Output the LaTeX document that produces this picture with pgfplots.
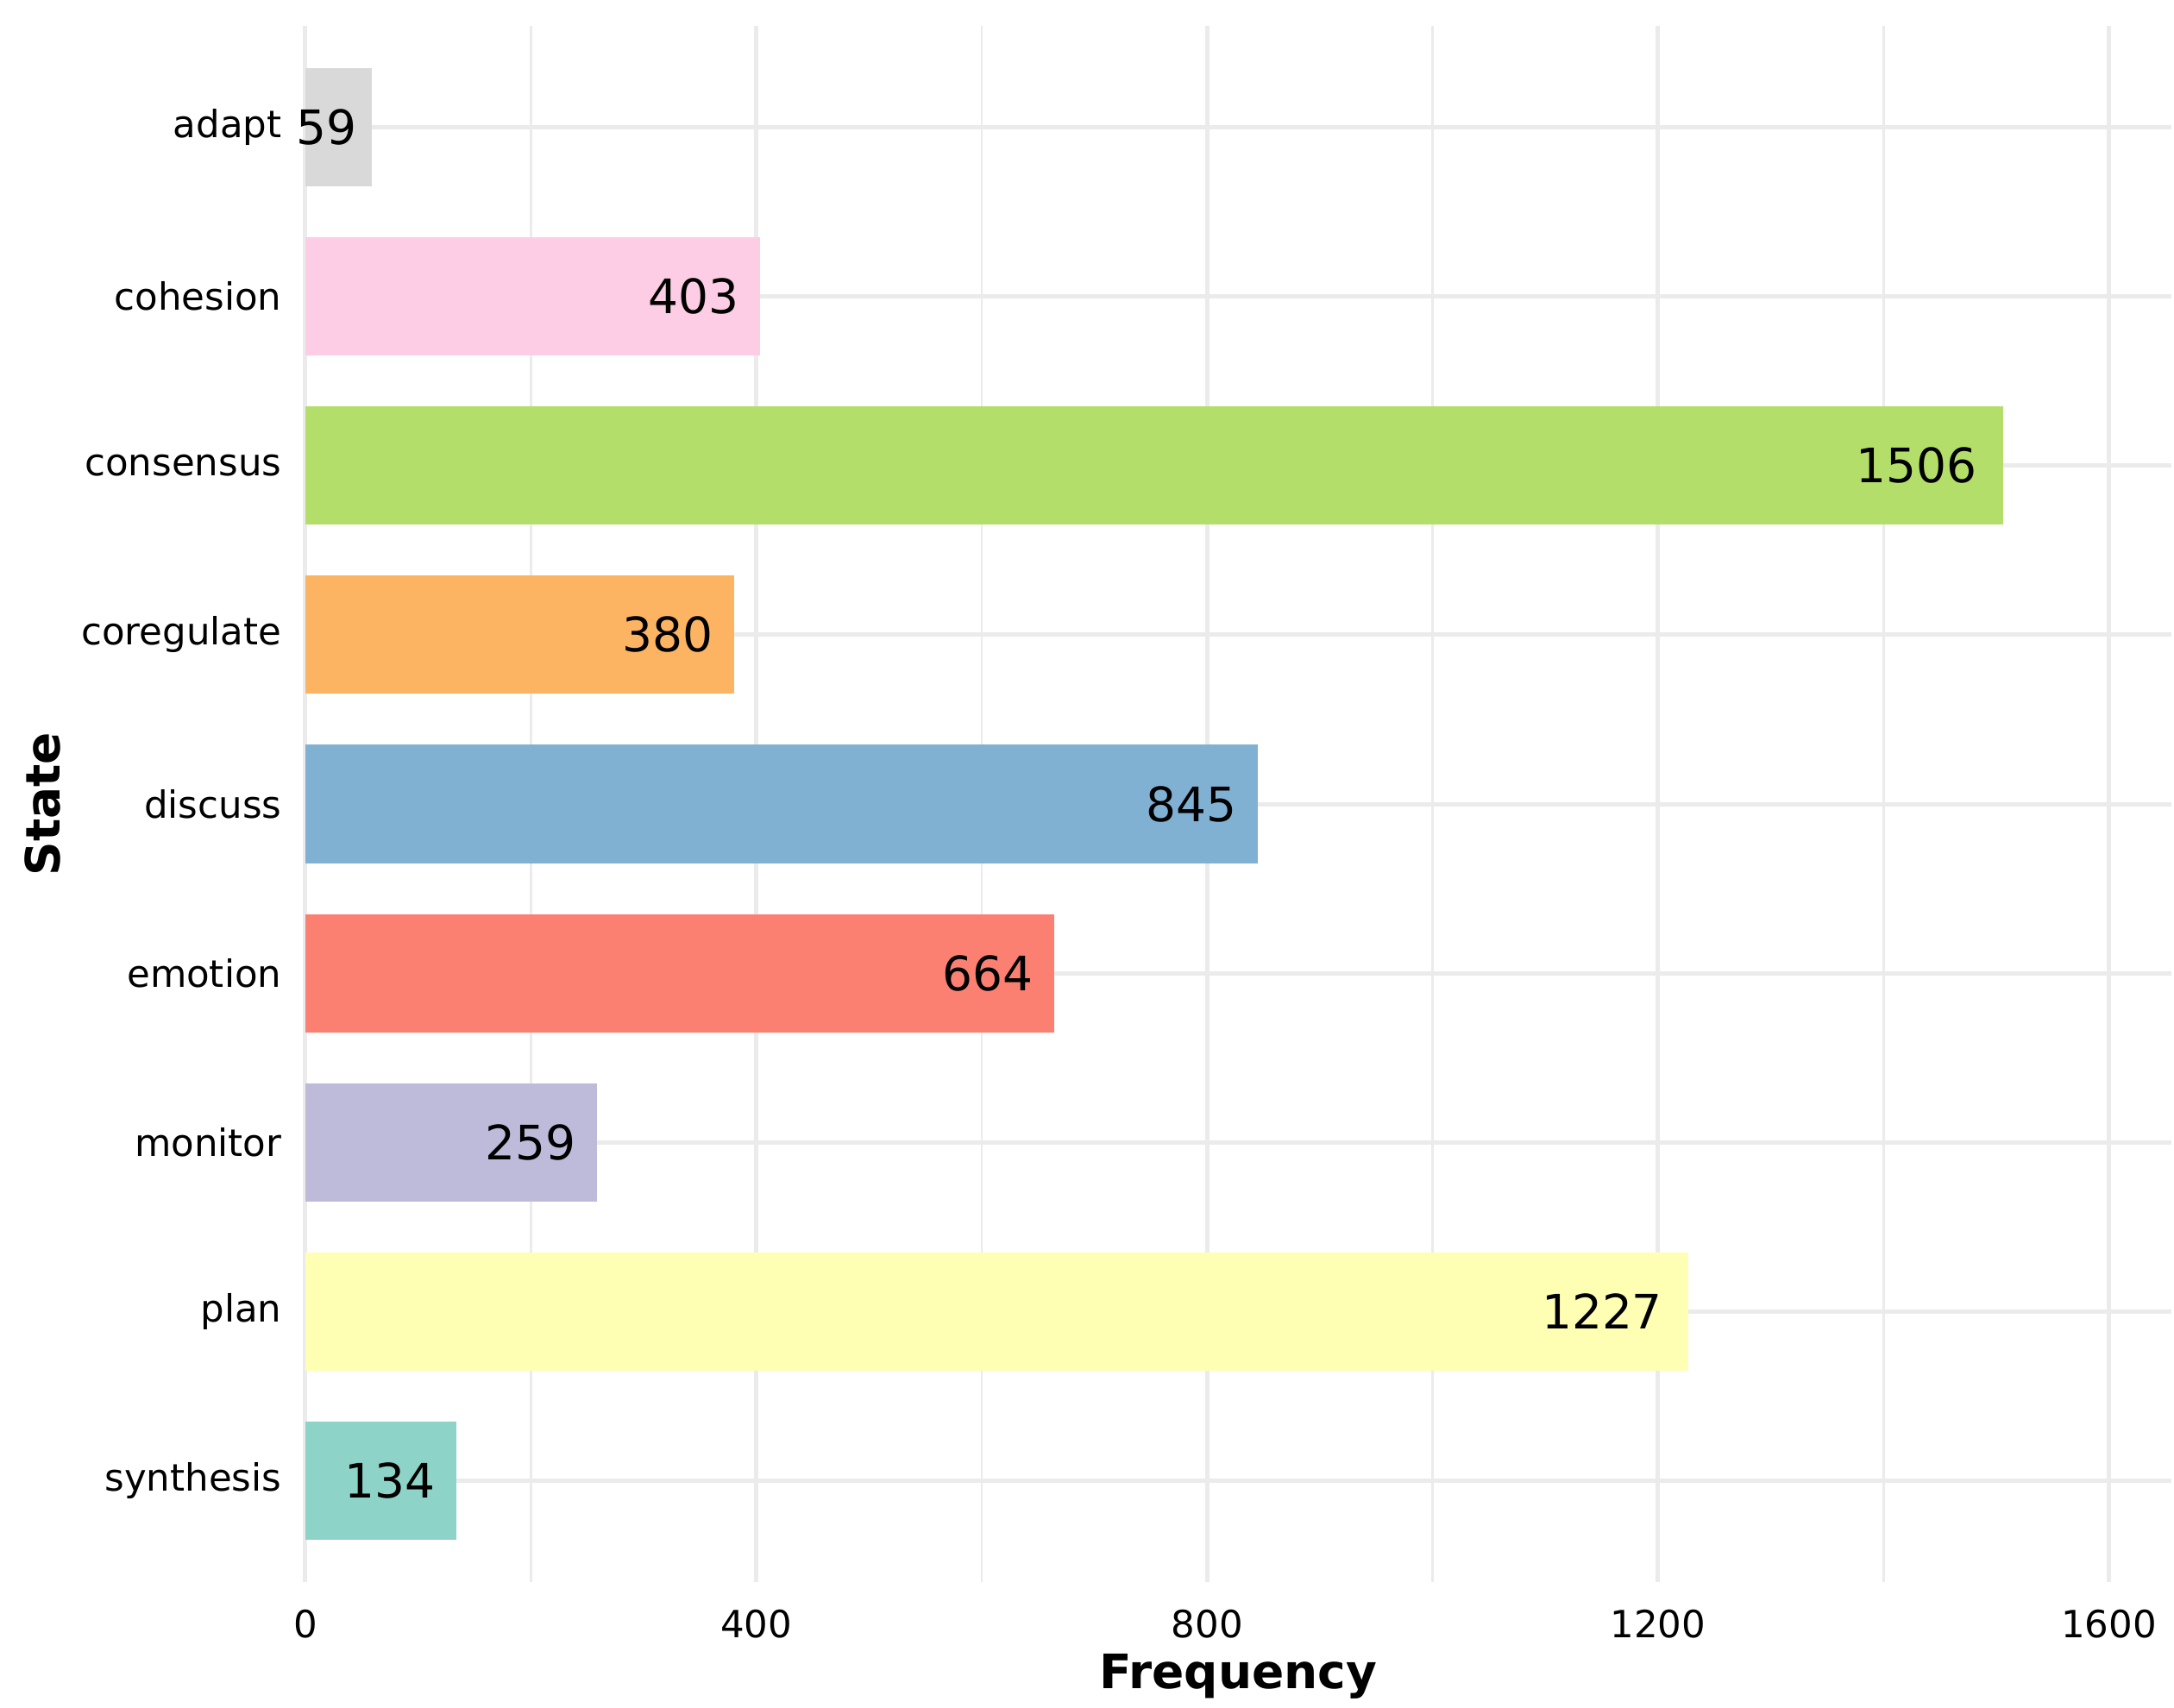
\documentclass[border=0pt]{standalone}
\usepackage{fontspec}
\setmainfont{DejaVu Sans}
\usepackage{pgfplots}
\pgfplotsset{compat=1.18}
\definecolor{cSyn}{HTML}{8DD3C7}
\definecolor{cPlan}{HTML}{FFFFB3}
\definecolor{cMon}{HTML}{BEBADA}
\definecolor{cEmo}{HTML}{FB8072}
\definecolor{cDis}{HTML}{80B1D3}
\definecolor{cCor}{HTML}{FDB462}
\definecolor{cCon}{HTML}{B3DE69}
\definecolor{cCoh}{HTML}{FCCDE5}
\definecolor{cAda}{HTML}{D9D9D9}
\definecolor{gridgray}{HTML}{EBEBEB}
\begin{document}
\begin{tikzpicture}
\begin{axis}[
  width=432.5pt, height=361pt, scale only axis,
  xmin=0, xmax=1655, ymin=-0.6, ymax=8.6,
  xtick={0,400,...,1600}, minor xtick={200,600,1000,1400},
  ytick={0,...,8},
  yticklabels={synthesis,plan,monitor,emotion,discuss,coregulate,consensus,cohesion,adapt},
  axis line style={draw=none}, major tick length=0pt, minor tick length=0pt,
  grid=both,
  major grid style={draw=gridgray, line width=1pt},
  minor grid style={draw=gridgray, line width=0.5pt},
  /pgf/number format/assume math mode=true,
  /pgf/number format/1000 sep={},
  xticklabel style={font=\fontsize{8.7}{10}\selectfont, anchor=base, yshift=-12.8pt},
  yticklabel style={font=\fontsize{8.7}{10}\selectfont, anchor=east, xshift=-2pt},
  xlabel={\bfseries Frequency}, ylabel={\bfseries State},
  label style={font=\fontsize{11}{13}\selectfont},
  xlabel style={at={(axis description cs:0.5,0)}, anchor=center, yshift=-21.8pt},
  ylabel style={at={(axis description cs:-0.141,0.5)}, anchor=center},
  xbar, bar width=0.7, bar shift=0pt,
  nodes near coords,
  every node near coord/.append style={anchor=east, inner xsep=0pt, xshift=-4.7pt, text=black, font=\fontsize{11}{13}\selectfont},
]
\addplot[xbar, fill=cSyn, draw=none] coordinates {(134,0)};
\addplot[xbar, fill=cPlan, draw=none, every node near coord/.append style={xshift=-1.15pt}] coordinates {(1227,1)};
\addplot[xbar, fill=cMon, draw=none] coordinates {(259,2)};
\addplot[xbar, fill=cEmo, draw=none] coordinates {(664,3)};
\addplot[xbar, fill=cDis, draw=none] coordinates {(845,4)};
\addplot[xbar, fill=cCor, draw=none] coordinates {(380,5)};
\addplot[xbar, fill=cCon, draw=none, every node near coord/.append style={xshift=-1.15pt}] coordinates {(1506,6)};
\addplot[xbar, fill=cCoh, draw=none] coordinates {(403,7)};
\addplot[xbar, fill=cAda, draw=none, every node near coord/.append style={xshift=1.45pt}] coordinates {(59,8)};
\coordinate (O) at (rel axis cs:0,0);
\end{axis}
\pgfresetboundingbox
\path[use as bounding box] ([shift={(-70.8pt,-29.1pt)}]O) rectangle ([shift={(433.2pt,366.9pt)}]O);
\end{tikzpicture}
\end{document}
